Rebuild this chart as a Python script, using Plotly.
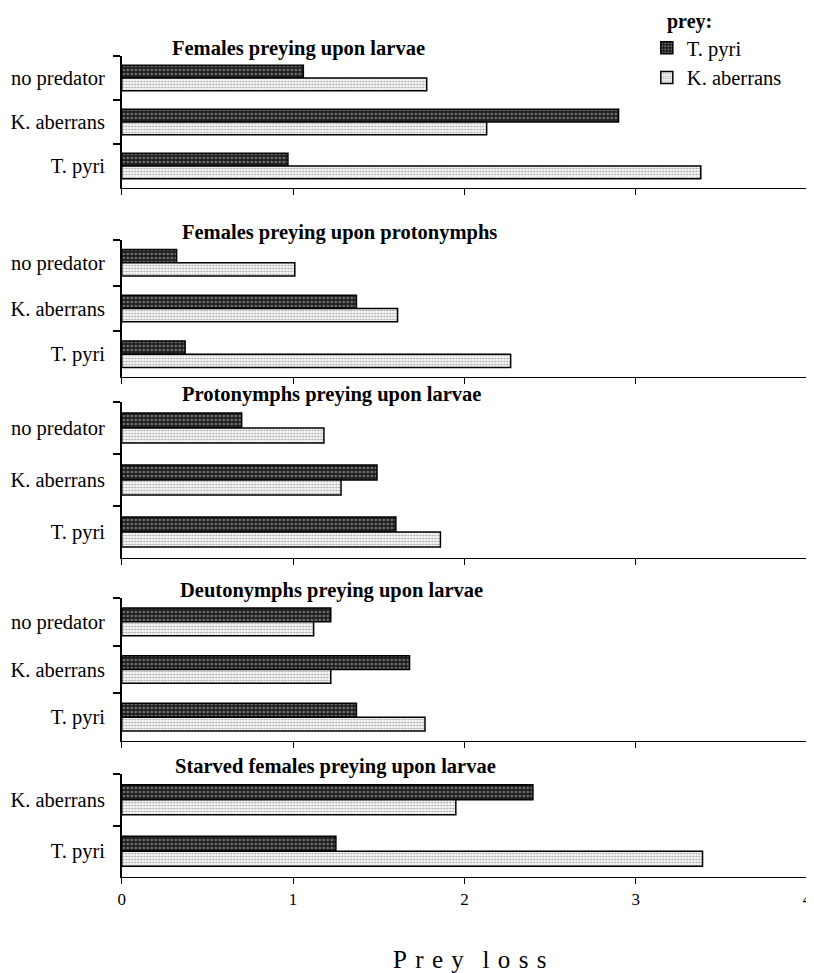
import plotly.graph_objects as go

# ---------------- data ----------------
titles = [
    "Females preying upon larvae",
    "Females preying upon protonymphs",
    "Protonymphs preying upon larvae",
    "Deutonymphs preying upon larvae",
    "Starved females preying upon larvae",
]
cats3 = ["no predator", "K. aberrans", "T. pyri"]
cats2 = ["K. aberrans", "T. pyri"]

tpyri_p1 = [1.06, 2.90, 0.97]
kaber_p1 = [1.78, 2.13, 3.38]
tpyri_p2 = [0.32, 1.37, 0.37]
kaber_p2 = [1.01, 1.61, 2.27]
tpyri_p3 = [0.70, 1.49, 1.60]
kaber_p3 = [1.18, 1.28, 1.86]
tpyri_p4 = [1.22, 1.68, 1.37]
kaber_p4 = [1.12, 1.22, 1.77]
tpyri_p5 = [2.40, 1.25]
kaber_p5 = [1.95, 3.39]

x_ticks = [0, 1, 2, 3, 4]
series_names = ["T. pyri", "K. aberrans"]

# ---------------- layout helpers ----------------
OFF = 8                      # default body margin of the html page
W, H = 814 - OFF, 973 - OFF  # figure size so the page fits the window
FONT = "Liberation Serif"


def px(v):
    return v - OFF


panel_px = [(56, 188), (240, 377), (402, 558), (598, 741), (774, 877)]
title_px = [(168, 55), (178, 240), (178, 401), (176, 597), (171, 773)]
X0, X1 = 119, 812

panels = [
    (cats3, tpyri_p1, kaber_p1),
    (cats3, tpyri_p2, kaber_p2),
    (cats3, tpyri_p3, kaber_p3),
    (cats3, tpyri_p4, kaber_p4),
    (cats2, tpyri_p5, kaber_p5),
]

dark_marker = dict(
    color="#1e1e1e",
    pattern=dict(shape=".", bgcolor="#1e1e1e", fgcolor="#c8c8c8", size=4, solidity=0.35),
    line=dict(color="black", width=1.5),
)
light_marker = dict(
    color="#ffffff",
    pattern=dict(shape=".", bgcolor="#ffffff", fgcolor="#555555", size=3, solidity=0.42),
    line=dict(color="black", width=1.5),
)

fig = go.Figure()
layout = {}
annotations = []

for i, (cats, tp, ka) in enumerate(panels):
    ax = "" if i == 0 else str(i + 1)
    fig.add_trace(go.Bar(
        y=cats, x=tp, orientation="h", name=series_names[0],
        xaxis="x" + ax, yaxis="y" + ax, legendgroup="tp",
        showlegend=(i == 0), marker=dark_marker,
    ))
    fig.add_trace(go.Bar(
        y=cats, x=ka, orientation="h", name=series_names[1],
        xaxis="x" + ax, yaxis="y" + ax, legendgroup="ka",
        showlegend=(i == 0), marker=light_marker,
    ))
    top, bot = panel_px[i]
    last = (i == len(panels) - 1)
    dom_x = [px(X0) / W, px(X1) / W]
    dom_y = [1 - px(bot) / H, 1 - px(top) / H]
    layout["xaxis" + ax] = dict(
        domain=dom_x, anchor="y" + ax, range=[0, 4],
        tickvals=x_ticks, ticks="outside", ticklen=6, tickwidth=1.2,
        tickcolor="black", showline=True, linecolor="black", linewidth=1.2,
        showgrid=False, zeroline=False, showticklabels=last,
        ticklabeloverflow="allow",
        tickfont=dict(family=FONT, size=17, color="black"),
    )
    layout["yaxis" + ax] = dict(
        domain=dom_y, anchor="x" + ax,
        type="category", categoryorder="array", categoryarray=cats,
        range=[len(cats) - 0.5, -0.5], tickson="boundaries",
        ticks="outside", ticklen=7, tickwidth=1.5, tickcolor="black",
        showline=True, linecolor="black", linewidth=1.5,
        showgrid=False, zeroline=False, ticklabelstandoff=11,
        tickfont=dict(family=FONT, size=20.5, color="black"),
    )
    # overlay axes: inner half of the ticks so that they cross the axis lines
    ox = str(11 + i)
    layout["xaxis" + ox] = dict(
        overlaying="x" + ax, anchor="y" + ax, range=[0, 4],
        tickvals=x_ticks, ticks="inside", ticklen=6, tickwidth=1.2,
        tickcolor="black", showline=False, showgrid=False, zeroline=False,
        showticklabels=False,
    )
    layout["yaxis" + ox] = dict(
        overlaying="y" + ax, anchor="x" + ax, type="linear",
        range=[len(cats) - 0.5, -0.5],
        tickvals=[k - 0.5 for k in range(len(cats) + 1)],
        ticks="inside", ticklen=6, tickwidth=1.5, tickcolor="black",
        showline=False, showgrid=False, zeroline=False, showticklabels=False,
    )
    tx, ty = title_px[i]
    annotations.append(dict(
        text="<b>" + titles[i] + "</b>", xref="paper", yref="paper",
        x=px(tx) / W, y=1 - px(ty - 7) / H, xanchor="left", yanchor="middle",
        showarrow=False, font=dict(family=FONT, size=20.5, color="black"),
    ))

GAP = "\u00a0\u200a"
annotations.append(dict(
    text=GAP.join(list("Prey")) + "\u00a0" * 3 + GAP.join(list("loss")),
    xref="paper", yref="paper",
    x=px(471) / W, y=1 - px(959) / H, xanchor="center", yanchor="middle",
    showarrow=False, font=dict(family=FONT, size=25, color="black"),
))
annotations.append(dict(
    text="<b>prey:</b>", xref="paper", yref="paper",
    x=px(668) / W, y=1.0, xanchor="left", yanchor="top",
    showarrow=False, font=dict(family=FONT, size=20, color="black"),
))

fig.update_layout(
    width=W, height=H,
    margin=dict(l=0, r=0, t=0, b=0),
    paper_bgcolor="white", plot_bgcolor="white",
    barmode="group", bargap=0.42, bargroupgap=0,
    annotations=annotations,
    legend=dict(
        x=px(650) / W, y=1 - px(28) / H, xanchor="left", yanchor="top",
        font=dict(family=FONT, size=20.5, color="black"),
        tracegroupgap=0, traceorder="grouped", bgcolor="rgba(0,0,0,0)",
        itemwidth=30,
    ),
    **layout,
)

fig.write_html("out.html")
